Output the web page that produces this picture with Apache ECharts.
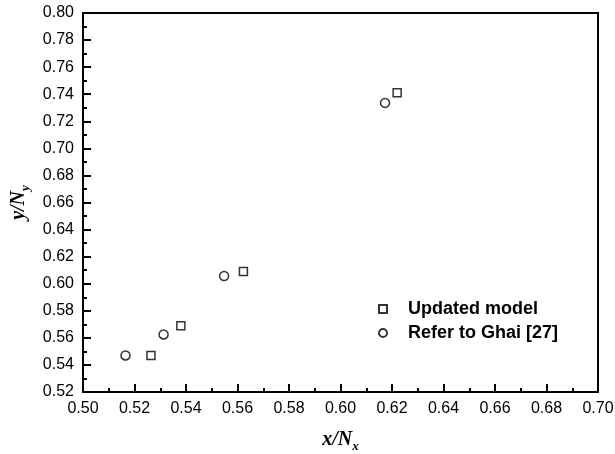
<!DOCTYPE html>
<html>
<head>
<meta charset="utf-8">
<script src="https://cdn.jsdelivr.net/npm/echarts@6/dist/echarts.min.js"></script>
<style>html,body{margin:0;padding:0;background:#fff}#c{width:615px;height:454px}</style>
</head>
<body>
<div id="c"></div>
<script>
var seriesNames = ['Updated model', 'Refer to Ghai [27]'];
var updatedX = [0.5264, 0.5380, 0.5623, 0.6220];
var updatedY = [0.547, 0.569, 0.609, 0.741];
var ghaiX = [0.5165, 0.5313, 0.5548, 0.6173];
var ghaiY = [0.547, 0.5625, 0.6057, 0.7336];

function pairs(xs, ys) { return xs.map(function (x, i) { return [x, ys[i]]; }); }

var chart = echarts.init(document.getElementById('c'));
var labelStyle = { color: '#000', fontSize: 16, fontFamily: 'Liberation Sans, Arial, sans-serif', fontWeight: 'normal' };
var nameRich = {
  a: { fontFamily: 'Liberation Serif, Times New Roman, serif', fontStyle: 'italic', fontWeight: 'bold', fontSize: 20, color: '#000' },
  b: { fontFamily: 'Liberation Serif, Times New Roman, serif', fontStyle: 'italic', fontWeight: 'bold', fontSize: 13, color: '#000', padding: [14, 0, 0, 0] }
};
function axisBase() {
  return {
    type: 'value',
    axisLine: { show: true, onZero: false, lineStyle: { color: '#000', width: 2 } },
    axisTick: { show: true, inside: true, length: 8, lineStyle: { color: '#000', width: 2 } },
    minorTick: { show: true, splitNumber: 2, length: 4, lineStyle: { color: '#000', width: 2 } },
    splitLine: { show: false },
    minorSplitLine: { show: false },
    axisLabel: Object.assign({ formatter: function (v) { return v.toFixed(2); } }, labelStyle)
  };
}
var xa = axisBase();
Object.assign(xa, {
  min: 0.50, max: 0.70, interval: 0.02,
  name: '{a|x/N}{b|x}', nameLocation: 'middle', nameGap: 34,
  nameTextStyle: { rich: nameRich }
});
xa.axisLabel.margin = 9;
var ya = axisBase();
Object.assign(ya, {
  min: 0.52, max: 0.80, interval: 0.02,
  name: '{a|y/N}{b|y}', nameLocation: 'middle', nameGap: 50, nameRotate: 90,
  nameTextStyle: { rich: nameRich }
});
ya.axisLabel.margin = 9;

chart.setOption({
  animation: false,
  backgroundColor: '#fff',
  grid: { left: 83, top: 13, right: 17, bottom: 62, containLabel: false, outerBoundsMode: 'none',
    show: true, borderColor: '#000', borderWidth: 2, backgroundColor: 'transparent' },
  xAxis: xa,
  yAxis: ya,
  legend: {
    left: 373, top: 295, orient: 'vertical', itemGap: 6,
    itemWidth: 8, itemHeight: 8,
    textStyle: { color: '#000', fontSize: 18, fontWeight: 'bold', fontFamily: 'Liberation Sans, Arial, sans-serif', padding: [0, 0, 0, 16] },
    data: seriesNames
  },
  series: [
    { name: seriesNames[0], type: 'scatter', symbol: 'rect', symbolSize: 8,
      itemStyle: { color: '#fff', borderColor: '#000', borderWidth: 1.5 },
      data: pairs(updatedX, updatedY) },
    { name: seriesNames[1], type: 'scatter', symbol: 'circle', symbolSize: 9,
      itemStyle: { color: '#fff', borderColor: '#000', borderWidth: 1.5 },
      data: pairs(ghaiX, ghaiY) }
  ]
});
</script>
</body>
</html>
